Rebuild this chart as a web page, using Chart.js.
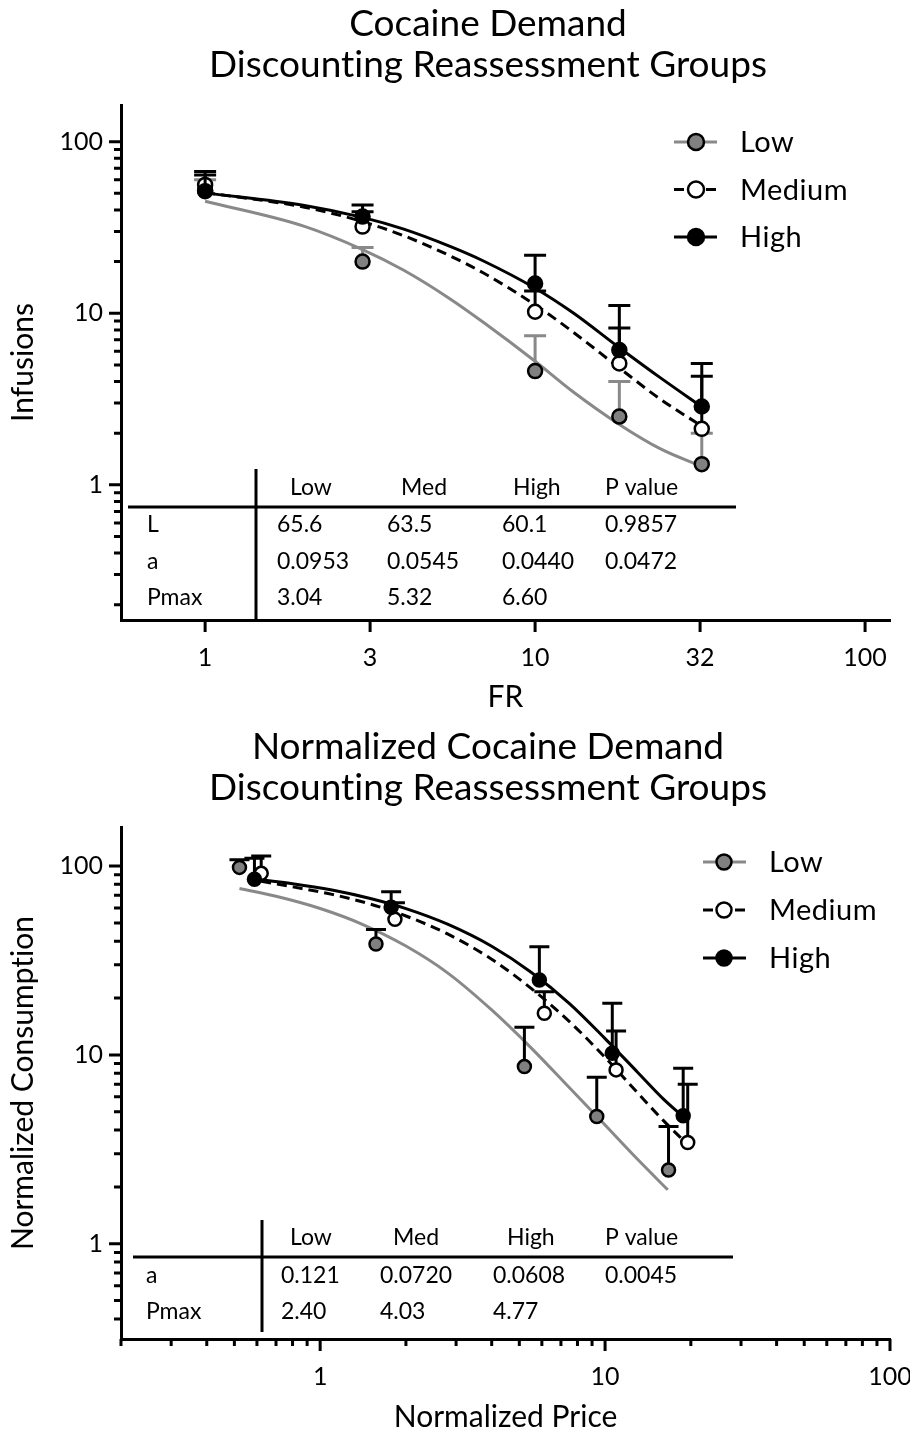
<!DOCTYPE html>
<html lang="en">
<head>
<meta charset="UTF-8" />
<title>Cocaine Demand - Discounting Reassessment Groups</title>
<style>
  body { margin: 0; background: #fff; font-family: Lato, 'DejaVu Sans', sans-serif; color: #000; }
  .page { position: relative; width: 910px; height: 1433px; overflow: hidden; }
  .panel { position: absolute; left: 0; width: 910px; }
  .title { position: absolute; left: 138px; width: 700px; text-align: center; font-size: 37px; line-height: 41px;
           white-space: nowrap; font-variant-ligatures: none; }
</style>
</head>
<body>
<div class="page">
  <div class="panel" style="top:0;height:715px"><canvas id="raw"></canvas></div>
  <div class="panel" style="top:715px;height:718px"><canvas id="norm"></canvas></div>
  <div class="title" style="top:1px">Cocaine Demand<br>Discounting Reassessment Groups</div>
  <div class="title" style="top:724px">Normalized Cocaine Demand<br>Discounting Reassessment Groups</div>
</div>

<script src="https://cdn.jsdelivr.net/npm/chart.js"></script>
<script>
  // ---------- top panel: infusions by FR ----------
  const fr = [1, 3, 10, 18, 32];
  const infLow = [52, 20.0, 4.6, 2.5, 1.32];
  const infLowTop = [60, 24.2, 7.4, 4.0, 2.0];
  const infMed = [56, 32, 10.2, 5.1, 2.12];
  const infMedTop = [64, 39, 13.5, 8.2, 4.3];
  const infHigh = [51.5, 36.6, 14.9, 6.1, 2.86];
  const infHighTop = [67, 42.8, 21.8, 11.1, 5.1];

  // fitted demand curves, read along FR
  const fitFr = [1, 2, 3, 4, 5.5, 7, 10, 13, 18, 24, 32];
  const fitLowInf = [45.0, 32.1, 23.5, 17.8, 12.2, 8.8, 5.25, 3.5, 2.25, 1.62, 1.28];
  const fitMedInf = [50.5, 41.5, 34.2, 28.3, 21.7, 17.1, 11.2, 7.8, 4.8, 3.15, 2.2];
  const fitHighInf = [50.3, 42.5, 36.2, 30.9, 24.6, 20.1, 14.0, 10.1, 6.3, 4.2, 2.85];

  const frTicks = [1, 3.162, 10, 31.62, 100];
  const frTickLabels = ['1', '3', '10', '32', '100'];
  const infTicks = [1, 10, 100];
  const infMinor = [0.2, 0.3, 0.4, 0.5, 0.6, 0.7, 0.8, 0.9, 2, 3, 4, 5, 6, 7, 8, 9, 20, 30, 40, 50, 60, 70, 80, 90];

  const rawHead = ['Low', 'Med', 'High', 'P value'];
  const rawRows = [
    ['L', '65.6', '63.5', '60.1', '0.9857'],
    ['a', '0.0953', '0.0545', '0.0440', '0.0472'],
    ['Pmax', '3.04', '5.32', '6.60', '']
  ];

  // ---------- bottom panel: normalized consumption by normalized price ----------
  const priceLow = [0.521, 1.57, 5.21, 9.35, 16.7];
  const consLow = [98.4, 38.7, 8.67, 4.72, 2.46];
  const consLowTop = [108, 46.2, 14.0, 7.62, 4.18];
  const priceMed = [0.621, 1.83, 6.12, 10.93, 19.5];
  const consMed = [91.5, 52.2, 16.6, 8.33, 3.44];
  const consMedTop = [113, 63.9, 21.6, 13.4, 7.0];
  const priceHigh = [0.588, 1.775, 5.88, 10.6, 18.8];
  const consHigh = [85.1, 60.5, 24.9, 10.2, 4.76];
  const consHighTop = [110, 73.1, 37.4, 18.8, 8.5];

  const fitLowPrice = [0.521, 0.7, 1, 1.4, 2, 2.8, 4, 5.5, 7.5, 10, 13, 16.6];
  const fitLowCons = [76, 69.2, 59.6, 49.3, 37.7, 27.2, 17.3, 10.9, 6.7, 4.25, 2.8, 1.93];
  const fitMedPrice = [0.621, 0.8, 1.1, 1.5, 2, 2.8, 4, 5.5, 7.5, 10, 13, 16, 19.5];
  const fitMedCons = [83, 77.6, 70.8, 62.9, 54.4, 43.7, 32.1, 22.5, 15.0, 9.7, 6.3, 4.5, 3.35];
  const fitHighPrice = [0.588, 0.8, 1.1, 1.5, 2, 2.8, 4, 5.5, 7.5, 10, 13, 16, 18.8];
  const fitHighCons = [85.3, 80.6, 74.6, 67.3, 59.5, 49.2, 37.6, 27.4, 18.7, 12.2, 8.1, 5.85, 4.7];

  const priceTicks = [1, 10, 100];
  const priceTickLabels = ['1', '10', '100'];
  const priceMinor = [0.2, 0.3, 0.4, 0.5, 0.6, 0.7, 0.8, 0.9, 2, 3, 4, 5, 6, 7, 8, 9, 20, 30, 40, 50, 60, 70, 80, 90];
  const consTicks = [1, 10, 100];
  const consMinor = [0.4, 0.5, 0.6, 0.7, 0.8, 0.9, 2, 3, 4, 5, 6, 7, 8, 9, 20, 30, 40, 50, 60, 70, 80, 90];

  const normHead = ['Low', 'Med', 'High', 'P value'];
  const normRows = [
    ['a', '0.121', '0.0720', '0.0608', '0.0045'],
    ['Pmax', '2.40', '4.03', '4.77', '']
  ];

  const groupNames = ['Low', 'Medium', 'High'];
  const GREY_LINE = '#898989';
  const GREY_FILL = '#808080';
  const FONT = 'Lato, "DejaVu Sans", sans-serif';

  // keep canvas text free of ligatures ("ti" in Lato)
  const plainText = {
    id: 'plainText',
    beforeDraw(chart) { chart.ctx.textRendering = 'optimizeSpeed'; }
  };

  // vertical +SEM bars, drawn just before each group's markers
  const errorBars = {
    id: 'errorBars',
    beforeDatasetDraw(chart, args) {
      const ds = chart.data.datasets[args.index];
      if (!ds.errTop) return;
      const { ctx, scales: { x, y } } = chart;
      ctx.save();
      ctx.strokeStyle = ds.errColor;
      ctx.lineWidth = 3;
      ctx.beginPath();
      ds.data.forEach((p, j) => {
        const px = x.getPixelForValue(p.x);
        const y0 = y.getPixelForValue(p.y);
        const y1 = y.getPixelForValue(ds.errTop[j]);
        ctx.moveTo(px, y0);
        ctx.lineTo(px, y1);
        ctx.moveTo(px - ds.capWidth / 2, y1);
        ctx.lineTo(px + ds.capWidth / 2, y1);
      });
      ctx.stroke();
      ctx.restore();
    }
  };

  // major + minor tick marks on both axes
  function axisMarks(spec) {
    return {
      id: 'axisMarks',
      afterDraw(chart) {
        const { ctx, chartArea: a, scales: { x, y } } = chart;
        ctx.save();
        ctx.strokeStyle = '#000';
        ctx.lineWidth = 3;
        ctx.beginPath();
        const yMark = (v, len) => { const p = y.getPixelForValue(v); ctx.moveTo(a.left - len, p); ctx.lineTo(a.left, p); };
        const xMark = (v, len) => { const p = x.getPixelForValue(v); ctx.moveTo(p, a.bottom); ctx.lineTo(p, a.bottom + len); };
        spec.yMajor.forEach(v => yMark(v, 12));
        spec.yMinor.forEach(v => yMark(v, 7));
        spec.xMajor.forEach(v => xMark(v, 12));
        spec.xMinor.forEach(v => xMark(v, 7));
        ctx.stroke();
        ctx.restore();
      }
    };
  }

  // fit parameter table inside the plot area
  function paramTable(t) {
    return {
      id: 'paramTable',
      afterDraw(chart) {
        const { ctx } = chart;
        ctx.save();
        ctx.fillStyle = '#000';
        ctx.font = '23px ' + FONT;
        ctx.textBaseline = 'middle';
        t.head.forEach((h, i) => ctx.fillText(h, t.headX[i], t.headY));
        t.rows.forEach((r, j) => {
          ctx.fillText(r[0], t.labelX, t.rowY[j]);
          r.slice(1).forEach((c, i) => ctx.fillText(c, t.colX[i], t.rowY[j]));
        });
        ctx.strokeStyle = '#000';
        ctx.lineWidth = 3;
        ctx.beginPath();
        ctx.moveTo(t.ruleX[0], t.ruleY);
        ctx.lineTo(t.ruleX[1], t.ruleY);
        ctx.moveTo(t.splitX, t.splitY[0]);
        ctx.lineTo(t.splitX, t.splitY[1]);
        ctx.stroke();
        ctx.restore();
      }
    };
  }

  // legend: line + marker + name
  function keyBox(k, groups) {
    return {
      id: 'keyBox',
      afterDraw(chart) {
        const { ctx } = chart;
        ctx.save();
        groups.forEach((g, i) => {
          const yy = k.y0 + i * k.dy;
          ctx.strokeStyle = g.line;
          ctx.lineWidth = 3;
          ctx.setLineDash(g.dash);
          ctx.beginPath();
          ctx.moveTo(k.x0, yy);
          ctx.lineTo(k.x1, yy);
          ctx.stroke();
          ctx.setLineDash([]);
          ctx.beginPath();
          ctx.arc(k.mx, yy, k.r, 0, Math.PI * 2);
          ctx.fillStyle = g.fill;
          ctx.fill();
          ctx.lineWidth = 2.5;
          ctx.strokeStyle = '#000';
          ctx.stroke();
          ctx.fillStyle = '#000';
          ctx.font = '29px ' + FONT;
          ctx.letterSpacing = '0.5px';
          ctx.textBaseline = 'middle';
          ctx.fillText(g.name, k.tx, yy + 1);
        });
        ctx.restore();
      }
    };
  }

  function groupDatasets(groups, radius, cap) {
    const sets = [];
    groups.forEach((g, i) => {
      sets.push({
        label: g.name,
        data: g.x.map((v, j) => ({ x: v, y: g.y[j] })),
        errTop: g.top,
        errColor: g.err,
        capWidth: cap,
        pointRadius: radius,
        pointBorderWidth: 2.5,
        pointBackgroundColor: g.fill,
        pointBorderColor: '#000',
        showLine: false,
        order: 2 - i
      });
      sets.push({
        label: g.name + ' fit',
        data: g.fx.map((v, j) => ({ x: v, y: g.fy[j] })),
        showLine: true,
        borderColor: g.line,
        borderWidth: 3,
        borderDash: g.dash,
        pointRadius: 0,
        cubicInterpolationMode: 'monotone',
        order: 10 + i
      });
    });
    return sets;
  }

  function makePanel(id, spec) {
    const tickFont = { family: FONT, size: 25 };
    const titleFont = { family: FONT, size: 30, lineHeight: 1 };
    return new Chart(document.getElementById(id), {
      type: 'scatter',
      data: { datasets: groupDatasets(spec.groups, spec.radius, spec.cap) },
      options: {
        responsive: true,
        maintainAspectRatio: false,
        animation: false,
        layout: { padding: { top: spec.top, right: 20, left: 0, bottom: 0 } },
        plugins: { legend: { display: false }, tooltip: { enabled: false } },
        scales: {
          x: {
            type: 'logarithmic',
            min: spec.xMin,
            max: spec.xMax,
            bounds: 'data',
            grid: { display: false, drawTicks: false },
            border: { display: true, color: '#000', width: 3 },
            afterBuildTicks: s => { s.ticks = spec.xTicks.map(v => ({ value: v })); },
            afterFit: s => { s.height = spec.xAxisH; s.paddingLeft = 0; s.paddingRight = 0; },
            ticks: {
              autoSkip: false, maxRotation: 0, color: '#000', font: tickFont, padding: 23,
              callback: (v, i) => spec.xLabels[i]
            },
            title: { display: true, text: spec.xTitle, color: '#000', font: titleFont, padding: { top: 0, bottom: spec.xTitlePad } }
          },
          y: {
            type: 'logarithmic',
            min: spec.yMin,
            max: spec.yMax,
            bounds: 'data',
            grid: { display: false, drawTicks: false },
            border: { display: true, color: '#000', width: 3 },
            afterBuildTicks: s => { s.ticks = spec.yTicks.map(v => ({ value: v })); },
            afterFit: s => { s.width = 121; s.paddingTop = 0; s.paddingBottom = 0; },
            ticks: {
              autoSkip: false, color: '#000', font: tickFont, padding: 18,
              callback: v => String(v)
            },
            title: { display: true, text: spec.yTitle, color: '#000', font: titleFont, padding: { top: 8, bottom: 0 } }
          }
        }
      },
      plugins: [plainText, errorBars, axisMarks(spec), paramTable(spec.table), keyBox(spec.key, spec.groups)]
    });
  }

  makePanel('raw', {
    top: 105, xAxisH: 95, xTitlePad: 3, radius: 7, cap: 22,
    xMin: 0.556, xMax: 119, yMin: 0.163, yMax: 163.6,
    xTicks: frTicks, xLabels: frTickLabels, xMajor: frTicks, xMinor: [],
    yTicks: infTicks, yMajor: infTicks, yMinor: infMinor,
    xTitle: 'FR', yTitle: 'Infusions',
    groups: [
      { name: groupNames[0], x: fr, y: infLow, top: infLowTop, fx: fitFr, fy: fitLowInf, fill: GREY_FILL, line: GREY_LINE, err: GREY_LINE, dash: [] },
      { name: groupNames[1], x: fr, y: infMed, top: infMedTop, fx: fitFr, fy: fitMedInf, fill: '#fff', line: '#000', err: '#000', dash: [10, 6] },
      { name: groupNames[2], x: fr, y: infHigh, top: infHighTop, fx: fitFr, fy: fitHighInf, fill: '#000', line: '#000', err: '#000', dash: [] }
    ],
    table: {
      head: rawHead, rows: rawRows,
      headX: [290, 401, 513, 605], headY: 488,
      labelX: 147, colX: [277, 387, 502, 605], rowY: [525, 562, 598],
      ruleX: [128, 736], ruleY: 507, splitX: 256, splitY: [469, 620]
    },
    key: { x0: 674, x1: 717, mx: 696, r: 8, tx: 740, y0: 142, dy: 47.5 }
  });

  makePanel('norm', {
    top: 112, xAxisH: 94, xTitlePad: 1, radius: 6.5, cap: 20,
    xMin: 0.2, xMax: 100, yMin: 0.313, yMax: 161,
    xTicks: priceTicks, xLabels: priceTickLabels, xMajor: priceTicks, xMinor: priceMinor,
    yTicks: consTicks, yMajor: consTicks, yMinor: consMinor,
    xTitle: 'Normalized Price', yTitle: 'Normalized Consumption',
    groups: [
      { name: groupNames[0], x: priceLow, y: consLow, top: consLowTop, fx: fitLowPrice, fy: fitLowCons, fill: GREY_FILL, line: GREY_LINE, err: '#000', dash: [] },
      { name: groupNames[1], x: priceMed, y: consMed, top: consMedTop, fx: fitMedPrice, fy: fitMedCons, fill: '#fff', line: '#000', err: '#000', dash: [10, 6] },
      { name: groupNames[2], x: priceHigh, y: consHigh, top: consHighTop, fx: fitHighPrice, fy: fitHighCons, fill: '#000', line: '#000', err: '#000', dash: [] }
    ],
    table: {
      head: normHead, rows: normRows,
      headX: [290, 393, 507, 605], headY: 523,
      labelX: 146, colX: [281, 380, 493, 605], rowY: [561, 597],
      ruleX: [133, 733], ruleY: 542, splitX: 262, splitY: [505, 617]
    },
    key: { x0: 703, x1: 746, mx: 724, r: 7.5, tx: 769, y0: 147, dy: 48 }
  });
</script>
</body>
</html>
